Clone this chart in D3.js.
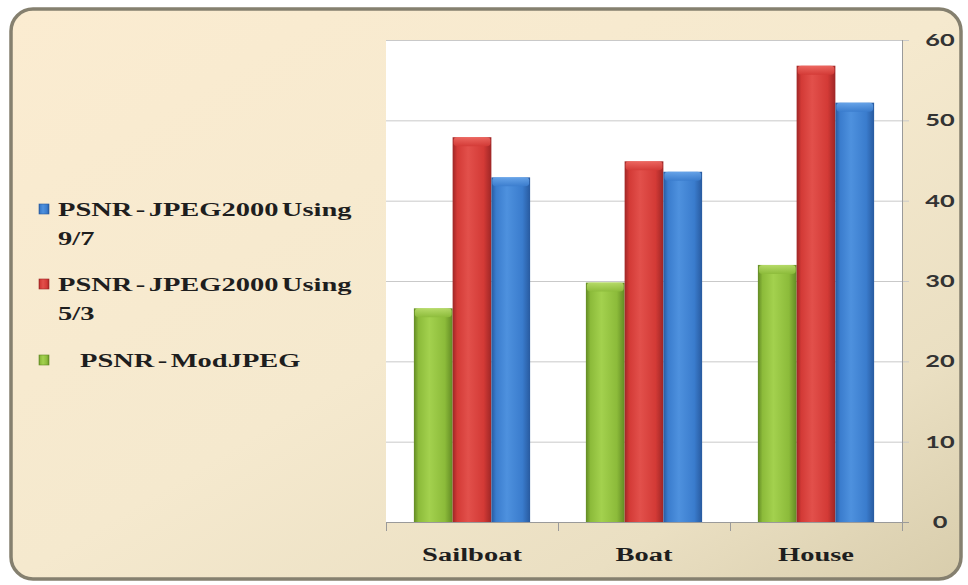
<!DOCTYPE html>
<html>
<head>
<meta charset="utf-8">
<script src="https://cdn.jsdelivr.net/npm/d3@7/dist/d3.min.js"></script>
<style>
  html, body { margin: 0; padding: 0; background: #ffffff; }
  svg { display: block; }
</style>
</head>
<body>
<svg id="chart" width="968" height="585"></svg>
<script>
// PSNR (dB) per test image for three codecs
const categories = ["Sailboat", "Boat", "House"];
const psnrModJpeg = [26.6, 29.8, 32.0];
const psnrJ2k53 = [47.9, 44.9, 56.8];
const psnrJ2k97 = [42.9, 43.6, 52.2];
const yTicks = [0, 10, 20, 30, 40, 50, 60];

// bar order left to right within a group
const seriesKeys = ["mod", "j53", "j97"];
const seriesValues = { mod: psnrModJpeg, j53: psnrJ2k53, j97: psnrJ2k97 };
const palette = {
  mod: { base: "#8cbb3a", light: "#a3d14e", dark: "#628a24", cap: "#b9dc6c" },
  j53: { base: "#d33a36", light: "#e2504b", dark: "#9e2626", cap: "#ee6a63" },
  j97: { base: "#3a7ccd", light: "#4e91de", dark: "#285a9f", cap: "#6aa6ea" }
};
// legend entries, top to bottom
const legendItems = [
  { key: "j97", lines: ["PSNR - JPEG2000 Using", "9/7"] },
  { key: "j53", lines: ["PSNR - JPEG2000 Using", "5/3"] },
  { key: "mod", lines: ["PSNR - ModJPEG"], indent: 22 }
];

const svg = d3.select("#chart");
const defs = svg.append("defs");

// panel background
const bg = defs.append("linearGradient").attr("id", "panelBg")
  .attr("x1", 0).attr("y1", 0).attr("x2", 1).attr("y2", 1);
bg.append("stop").attr("offset", "0").attr("stop-color", "#fbecd1");
bg.append("stop").attr("offset", "0.5").attr("stop-color", "#f5e9ce");
bg.append("stop").attr("offset", "0.8").attr("stop-color", "#eadfc2");
bg.append("stop").attr("offset", "1").attr("stop-color", "#d8cdac");

// cylinder-like shading per series
seriesKeys.forEach(k => {
  const c = palette[k];
  const g = defs.append("linearGradient").attr("id", "bar-" + k)
    .attr("x1", 0).attr("y1", 0).attr("x2", 1).attr("y2", 0);
  g.append("stop").attr("offset", "0").attr("stop-color", c.dark);
  g.append("stop").attr("offset", "0.12").attr("stop-color", c.base);
  g.append("stop").attr("offset", "0.4").attr("stop-color", c.light);
  g.append("stop").attr("offset", "0.8").attr("stop-color", c.base);
  g.append("stop").attr("offset", "1").attr("stop-color", c.dark);
  const cg = defs.append("linearGradient").attr("id", "cap-" + k)
    .attr("x1", 0).attr("y1", 0).attr("x2", 0).attr("y2", 1);
  cg.append("stop").attr("offset", "0").attr("stop-color", c.cap);
  cg.append("stop").attr("offset", "1").attr("stop-color", c.base);
});

// outer rounded frame
svg.append("rect")
  .attr("x", 11).attr("y", 9).attr("width", 950).attr("height", 570)
  .attr("rx", 22).attr("ry", 22)
  .attr("fill", "url(#panelBg)")
  .attr("stroke", "#85806f").attr("stroke-width", 3.5);

// plot area
const plot = { left: 386, right: 902, top: 40, bottom: 522 };
const x = d3.scaleBand().domain(categories).range([plot.left, plot.right]).padding(0);
const xs = d3.scaleBand().domain(seriesKeys).range([0, x.bandwidth()])
  .paddingInner(0).paddingOuter(0.72);
const y = d3.scaleLinear().domain([0, 60]).range([plot.bottom, plot.top]);

svg.append("rect")
  .attr("x", plot.left).attr("y", plot.top)
  .attr("width", plot.right - plot.left).attr("height", plot.bottom - plot.top)
  .attr("fill", "#ffffff");

// horizontal gridlines with short outward ticks
svg.append("g").selectAll("line").data(yTicks.filter(t => t > 0)).join("line")
  .attr("x1", plot.left).attr("x2", plot.right + 7)
  .attr("y1", d => y(d) + 0.5).attr("y2", d => y(d) + 0.5)
  .attr("stroke", "#c9c9c9").attr("stroke-width", 1);

// bars
const groups = svg.append("g").selectAll("g").data(categories).join("g")
  .attr("transform", d => `translate(${x(d)},0)`);
groups.each(function(cat, ci) {
  const g = d3.select(this);
  seriesKeys.forEach(k => {
    const v = seriesValues[k][ci];
    const bx = xs(k), bw = xs.bandwidth();
    g.append("rect")
      .attr("x", bx).attr("y", y(v))
      .attr("width", bw).attr("height", y(0) - y(v))
      .attr("fill", `url(#bar-${k})`);
    g.append("rect")
      .attr("x", bx + 1).attr("y", y(v))
      .attr("width", bw - 2).attr("height", 9)
      .attr("rx", 4).attr("ry", 3)
      .attr("fill", `url(#cap-${k})`)
      .attr("opacity", 0.9);
  });
});

// right value axis
const yAxis = svg.append("g");
yAxis.append("line")
  .attr("x1", plot.right + 0.5).attr("x2", plot.right + 0.5)
  .attr("y1", plot.top).attr("y2", plot.bottom + 9)
  .attr("stroke", "#9a9a9a");
yAxis.append("line")
  .attr("x1", plot.right).attr("x2", plot.right + 7)
  .attr("y1", y(0) + 0.5).attr("y2", y(0) + 0.5)
  .attr("stroke", "#9a9a9a");
yAxis.selectAll("text").data(yTicks).join("text")
  .attr("transform", d => `translate(940,${y(d) + 6}) scale(1.45,1)`)
  .attr("text-anchor", "middle")
  .attr("font-family", "Lato, 'Open Sans', sans-serif")
  .attr("font-weight", 700).attr("font-size", 17.5)
  .attr("fill", "#333333")
  .text(d => d);

// category axis
const xAxis = svg.append("g");
xAxis.append("line")
  .attr("x1", plot.left).attr("x2", plot.right)
  .attr("y1", plot.bottom + 0.5).attr("y2", plot.bottom + 0.5)
  .attr("stroke", "#9a9a9a");
const boundaries = categories.map(c => x(c)).concat([plot.right]);
xAxis.selectAll("line.tick").data(boundaries).join("line").attr("class", "tick")
  .attr("x1", d => d + 0.5).attr("x2", d => d + 0.5)
  .attr("y1", plot.bottom).attr("y2", plot.bottom + 9)
  .attr("stroke", "#9a9a9a");
xAxis.selectAll("text").data(categories).join("text")
  .attr("transform", d => `translate(${x(d) + x.bandwidth() / 2},561) scale(1.5,1)`)
  .attr("text-anchor", "middle")
  .attr("font-family", "'Liberation Serif', 'Times New Roman', serif")
  .attr("font-weight", 700).attr("font-size", 19)
  .attr("fill", "#1e1e1e")
  .text(d => d);

// legend
const legendTop = [216, 291, 367];
const legend = svg.append("g");
legendItems.forEach((item, i) => {
  const by = legendTop[i];
  const c = palette[item.key];
  legend.append("rect")
    .attr("x", 39).attr("y", by - 12).attr("width", 10).attr("height", 10)
    .attr("fill", `url(#bar-${item.key})`)
    .attr("stroke", c.dark).attr("stroke-width", 0.6);
  item.lines.forEach((line, li) => {
    legend.append("text")
      .attr("transform", `translate(${58 + (li === 0 && item.indent ? item.indent : 0)},${by + li * 29}) scale(1.5,1)`)
      .attr("font-family", "'Liberation Serif', 'Times New Roman', serif")
      .attr("font-weight", 700).attr("font-size", 19)
      .attr("word-spacing", -2.5)
      .attr("fill", "#1e1e1e")
      .text(line);
  });
});
</script>
</body>
</html>
